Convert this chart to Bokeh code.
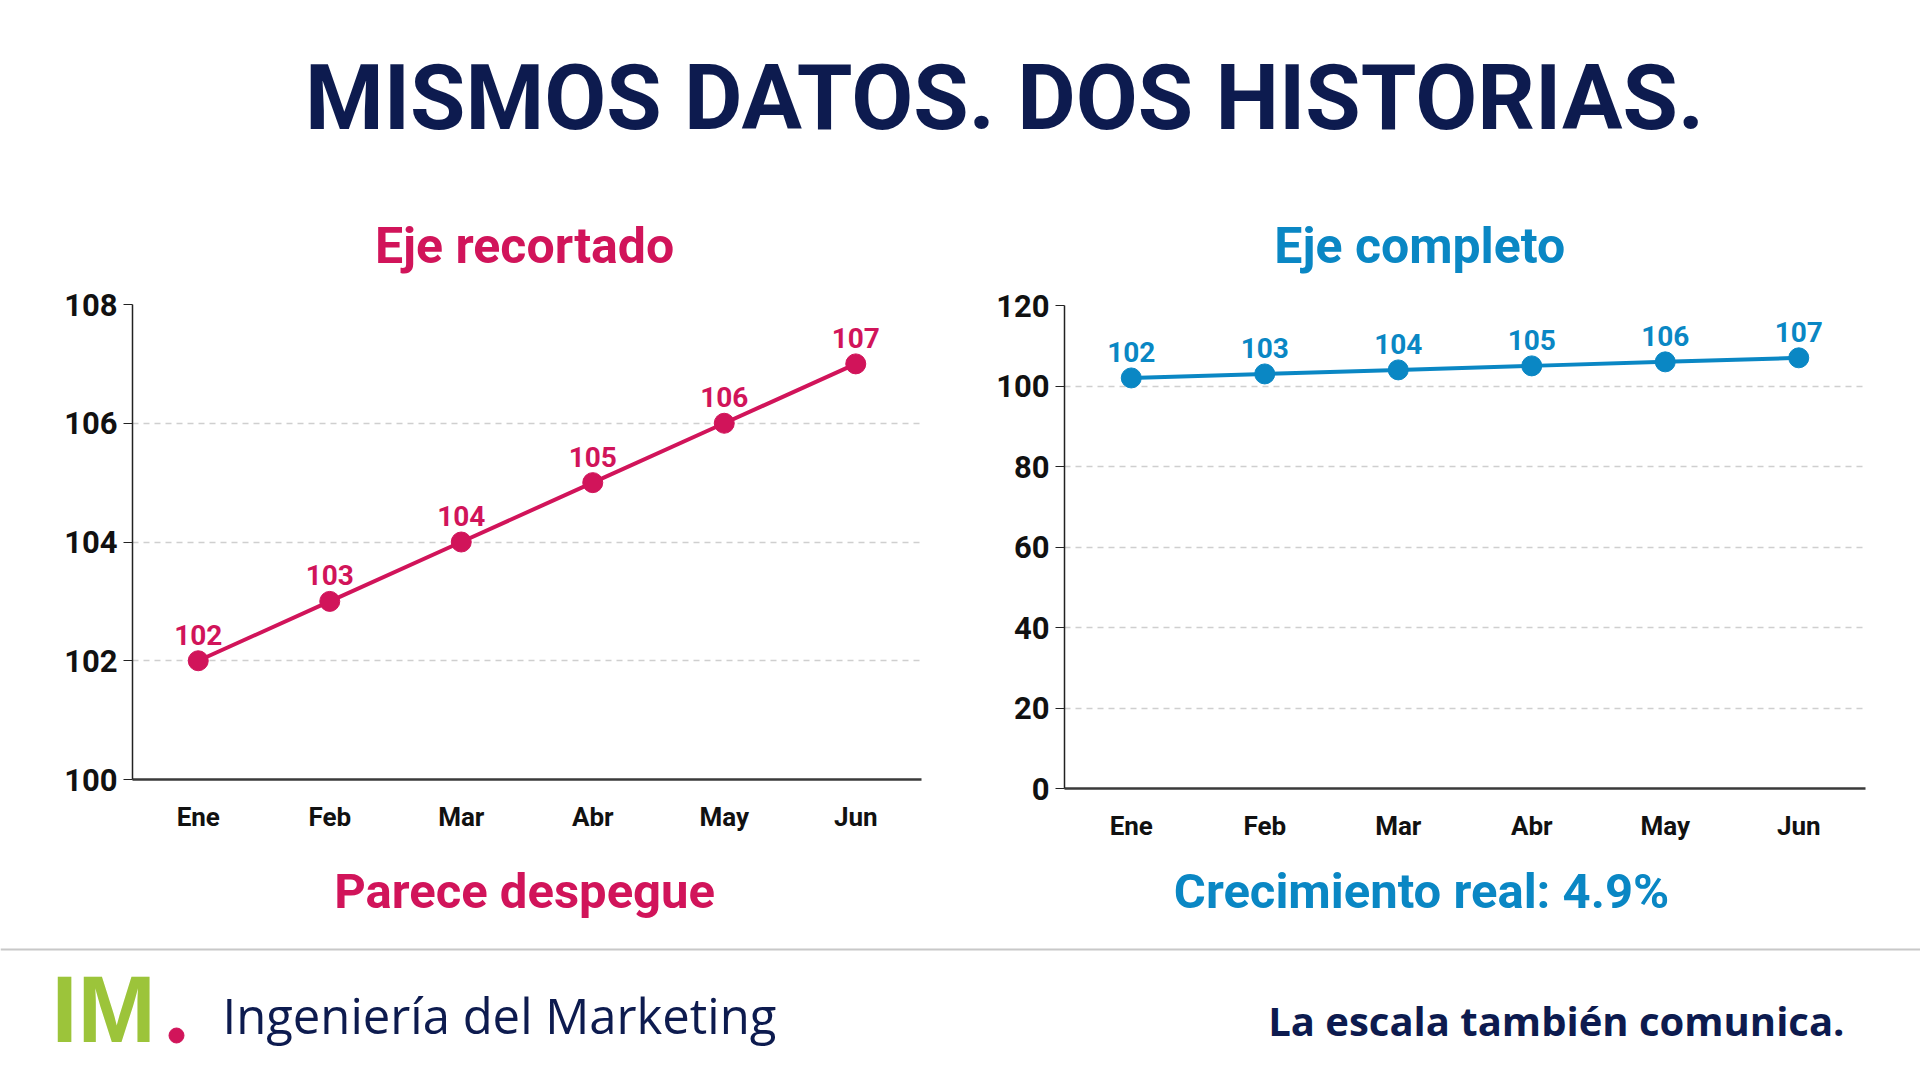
from bokeh.plotting import figure
from bokeh.layouts import column, row
from bokeh.models import FixedTicker
from bokeh.core.properties import value
from bokeh.embed import file_html
from bokeh.resources import INLINE

# data
months = ["Ene", "Feb", "Mar", "Abr", "May", "Jun"]
sales = [102, 103, 104, 105, 106, 107]
ticks_cut = [100, 102, 104, 106, 108]
ticks_full = [0, 20, 40, 60, 80, 100, 120]

title = "MISMOS DATOS. DOS HISTORIAS."
left_title = "Eje recortado"
right_title = "Eje completo"
left_note = "Parece despegue"
right_note = "Crecimiento real: 4.9%"
brand = "Ingeniería del Marketing"
tagline = "La escala también comunica."

# note: bold sizes like 100px/200px break the svg font parser, keep clear of them
HEAD_FONT = "Roboto"
NAVY = "#0d1b4f"
RED = "#d1145a"
BLUE = "#0a87c4"
GREEN = "#9cc43a"


def text_panel(w, h):
    p = figure(width=w, height=h, x_range=(0, w), y_range=(0, h),
               toolbar_location=None, output_backend="svg", min_border=0)
    p.xaxis.visible = False
    p.yaxis.visible = False
    p.xgrid.visible = False
    p.ygrid.visible = False
    p.outline_line_color = None
    return p


def label(p, x, y, txt, size, color, align="center", font=HEAD_FONT,
          style="bold", baseline="middle"):
    p.text(x=[x], y=[y], text=[txt], text_align=align, text_baseline=baseline,
           text_color=color, text_font=value(font), text_font_style=style,
           text_font_size=size)


def small(w, h, x, y, txt, size, color):
    p = text_panel(w, h)
    label(p, x, y, txt, size, color)
    return p


def chart(w, h, borders, y_range, ticks, color):
    left, right, top, bottom = borders
    p = figure(width=w, height=h, x_range=months, y_range=y_range,
               toolbar_location=None, output_backend="svg",
               min_border_left=left, min_border_right=right,
               min_border_top=top, min_border_bottom=bottom)
    p.outline_line_color = None
    p.xgrid.visible = False
    p.ygrid.grid_line_color = "#cfcfcf"
    p.ygrid.grid_line_dash = "6 5"
    p.ygrid.grid_line_width = 1.5
    p.yaxis.ticker = FixedTicker(ticks=ticks)
    p.xaxis.major_tick_line_color = None
    p.xaxis.axis_line_color = "#3a3a3a"
    p.xaxis.axis_line_width = 2.5
    p.xaxis.major_label_standoff = 16
    p.yaxis.minor_tick_line_color = None
    p.yaxis.major_tick_in = 0
    p.yaxis.major_tick_out = 9
    p.yaxis.major_tick_line_color = "#222222"
    p.yaxis.axis_line_color = "#222222"
    p.yaxis.axis_line_width = 1.5
    p.yaxis.major_label_standoff = 6
    for ax, size in ((p.xaxis, "26px"), (p.yaxis, "31px")):
        ax.major_label_text_font = HEAD_FONT
        ax.major_label_text_font_style = "bold"
        ax.major_label_text_font_size = size
        ax.major_label_text_color = "#111111"

    p.line(months, sales, line_color=color, line_width=4)
    p.scatter(months, sales, size=20, fill_color=color, line_color=color)
    p.text(months, sales, text=[str(v) for v in sales], text_align="center",
           text_baseline="bottom", y_offset=-16, text_color=color,
           text_font=value(HEAD_FONT), text_font_style="bold",
           text_font_size="28px")
    return p


# header
head = text_panel(1920, 204)
label(head, 1004, 106, title, "90px", NAVY)

# left column
lt = small(980, 80, 487, 39, left_title, "50px", RED)
lchart = chart(980, 566, (132, 59, 20, 71), (100, 108), ticks_cut, RED)
ls = small(980, 95, 487, 54, left_note, "49px", RED)

# right column
rt = small(940, 80, 417, 39, right_title, "50px", BLUE)
rchart = chart(940, 566, (84, 55, 21, 62), (0, 120), ticks_full, BLUE)
rs = small(940, 95, 419, 54, right_note, "49px", BLUE)

# footer
foot = text_panel(1920, 127)
foot.segment(x0=[0], y0=[123], x1=[1920], y1=[123], line_color="#c8c8c8",
             line_width=2)
label(foot, 51, 11, "IM", "94px", GREEN, align="left",
      font="Liberation Sans", baseline="bottom")
foot.scatter(x=[176], y=[37], size=15, fill_color=RED, line_color=RED)
label(foot, 222, 25, brand, "49px", NAVY, align="left", font="Open Sans",
      style="normal", baseline="bottom")
label(foot, 1844, 25, tagline, "40px", NAVY, align="right",
      font="Open Sans", style="bold", baseline="bottom")

page = column(head, row(column(lt, lchart, ls), column(rt, rchart, rs)), foot)

open("out.html", "w").write(file_html(page, INLINE))
